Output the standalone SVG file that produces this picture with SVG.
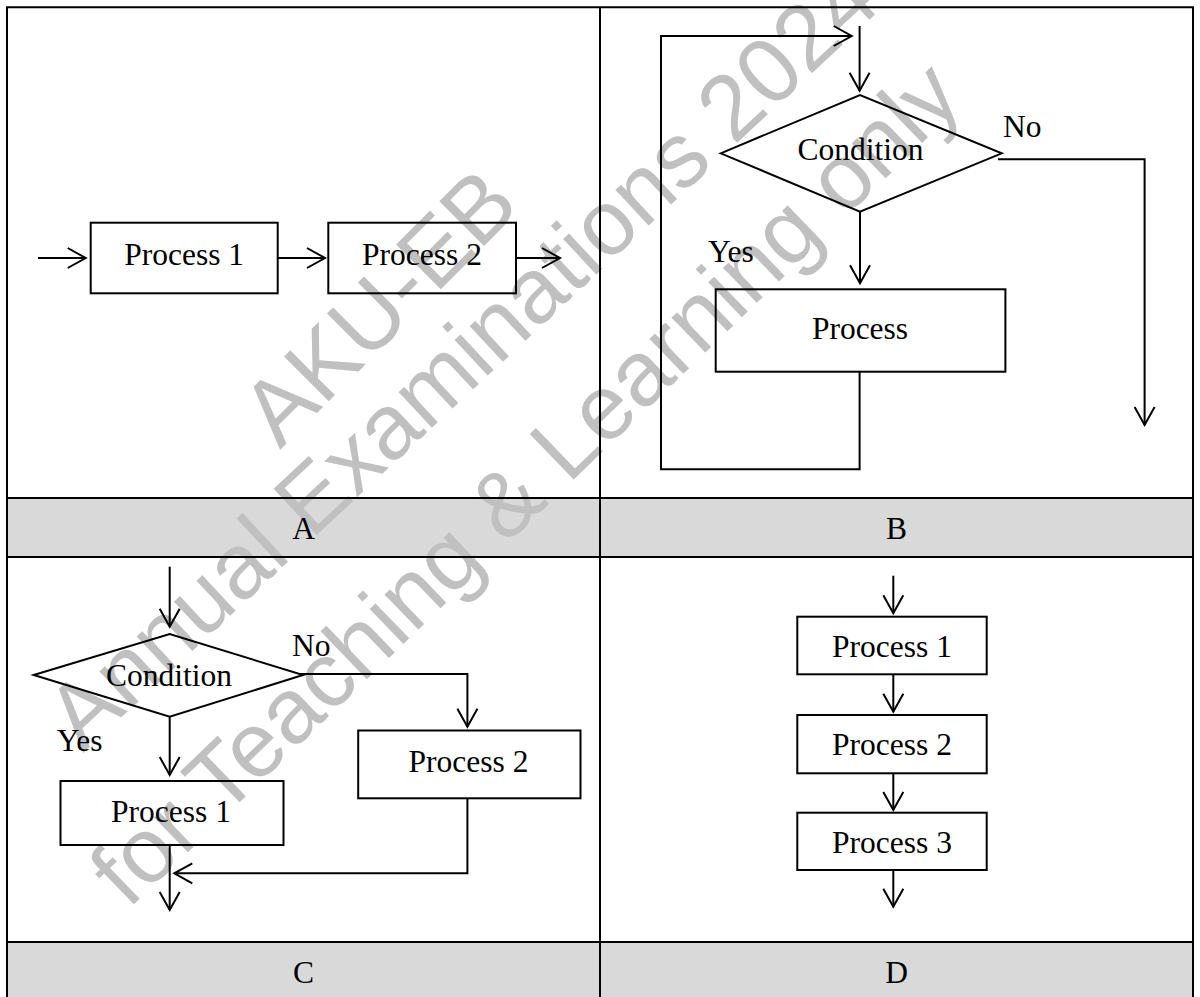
<svg xmlns="http://www.w3.org/2000/svg" width="1200" height="997" viewBox="0 0 1200 997">
<style>
.ln{stroke:#000;stroke-width:2;fill:none}
.box{stroke:#000;stroke-width:2;fill:none}
.ar{stroke:#000;stroke-width:2;fill:none;marker-end:url(#ah)}
.t{font-family:"Liberation Serif","Times New Roman",serif;font-size:31.5px;fill:#000}
.m{text-anchor:middle}
.wm{font-family:"Liberation Sans",Arial,sans-serif;font-size:92px;fill:#c0c0c0}
.band{fill:#d9d9d9}
</style>
<defs>
<marker id="ah" markerUnits="userSpaceOnUse" markerWidth="24" markerHeight="24" viewBox="0 0 24 24" refX="20" refY="12" orient="auto">
<path d="M2,2 L20,12 L2,22" fill="none" stroke="#000" stroke-width="2"/>
</marker>
</defs>
<rect x="0" y="0" width="1200" height="997" fill="#fff"/>
<g id="bands">
<rect class="band" x="7" y="498" width="1186" height="59"/>
<rect class="band" x="7" y="942" width="1186" height="60"/>
</g>
<g id="watermark">
<text class="wm" x="280" y="450" transform="rotate(-45 280 450)">AKU-EB</text>
<text class="wm" x="83" y="753" transform="rotate(-43 83 753)">Annual Examinations 2024</text>
<text class="wm" x="128" y="910" transform="rotate(-44 128 910)">for Teaching &amp; Learning only</text>
</g>
<g id="table">
<path class="ln" d="M7,997 V7.3 H1193 V997"/>
<path class="ln" d="M600,7.3 V997"/>
<path class="ln" d="M7,498 H1193 M7,557 H1193 M7,942 H1193"/>
<text class="t m" x="303.5" y="538.5">A</text>
<text class="t m" x="896.5" y="538.5">B</text>
<text class="t m" x="303.5" y="982.5">C</text>
<text class="t m" x="896.5" y="982.5">D</text>
</g>
<g id="A-process1">
<rect class="box" x="90.7" y="222.7" width="187" height="70.6"/>
<text class="t m" x="184.2" y="264.5">Process 1</text>
</g>
<g id="A-process2">
<rect class="box" x="328.3" y="222.7" width="187.7" height="70.6"/>
<text class="t m" x="422" y="264.5">Process 2</text>
</g>
<g id="B-condition">
<polygon class="box" points="720.7,153.3 860,95 1001.7,153.3 860,211.7"/>
<text class="t m" x="860.5" y="160">Condition</text>
</g>
<g id="B-process">
<rect class="box" x="715.7" y="289.3" width="289.7" height="82.4"/>
<text class="t m" x="860" y="339.3">Process</text>
</g>
<g id="C-condition">
<polygon class="box" points="33.7,675 169.7,634 303,675 169.7,716.7"/>
<text class="t m" x="169" y="686">Condition</text>
</g>
<g id="C-process1">
<rect class="box" x="60.5" y="781" width="223" height="64"/>
<text class="t m" x="171" y="821.7">Process 1</text>
</g>
<g id="C-process2">
<rect class="box" x="358.2" y="730.5" width="222.3" height="67.8"/>
<text class="t m" x="468.5" y="771.7">Process 2</text>
</g>
<g id="D-process1">
<rect class="box" x="797.3" y="616.7" width="189.4" height="57.6"/>
<text class="t m" x="892" y="656.7">Process 1</text>
</g>
<g id="D-process2">
<rect class="box" x="797.3" y="715" width="189.4" height="58.3"/>
<text class="t m" x="892" y="755.4">Process 2</text>
</g>
<g id="D-process3">
<rect class="box" x="797.3" y="812.7" width="189.4" height="57.3"/>
<text class="t m" x="892" y="852.6">Process 3</text>
</g>
<g id="connectors">
<path class="ar" d="M38,258 H85.7"/>
<path class="ar" d="M277.7,258 H325"/>
<path class="ar" d="M516,258 H560"/>
<path class="ar" d="M859.6,26 V90.7"/>
<path class="ar" d="M860,211.7 V283.3"/>
<path class="ar" d="M859.6,371.7 V469.3 H661 V36 H851.7"/>
<path class="ar" d="M998,159.3 H1144.6 V425"/>
<text class="t" x="1003" y="137.3">No</text>
<text class="t" x="708" y="262">Yes</text>
<path class="ar" d="M169.7,566.7 V626.7"/>
<path class="ar" d="M169.7,716.7 V775"/>
<path class="ar" d="M300,674 H467.4 V726.7"/>
<path class="ar" d="M169.7,845 V910"/>
<path class="ar" d="M467.4,798.3 V873.3 H174.3"/>
<text class="t" x="292" y="656">No</text>
<text class="t" x="56.7" y="751">Yes</text>
<path class="ar" d="M893.3,575.7 V613.3"/>
<path class="ar" d="M893.3,674.3 V711.7"/>
<path class="ar" d="M893.3,773.3 V810"/>
<path class="ar" d="M893.3,870 V906.7"/>
</g>
</svg>
